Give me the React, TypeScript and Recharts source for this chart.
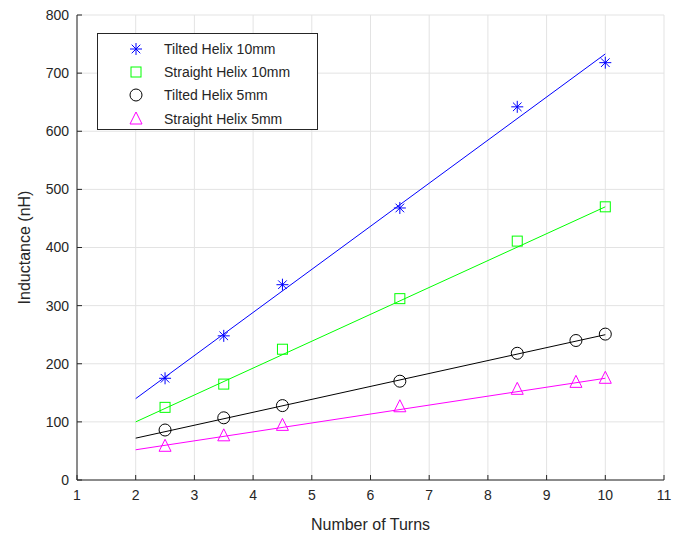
import React from 'react';
import { ComposedChart, Line, Scatter, XAxis, YAxis, CartesianGrid, Legend, Label } from 'recharts';

// measured points (turns -> nH)
const tiltedX10 = [2.5, 3.5, 4.5, 6.5, 8.5, 10];
const tiltedY10 = [175, 248, 336, 468, 642, 718];
const straightX10 = [2.5, 3.5, 4.5, 6.5, 8.5, 10];
const straightY10 = [125, 165, 225, 312, 411, 470];
const tiltedX5 = [2.5, 3.5, 4.5, 6.5, 8.5, 9.5, 10];
const tiltedY5 = [86, 107, 128, 170, 218, 240, 251];
const straightX5 = [2.5, 3.5, 4.5, 6.5, 8.5, 9.5, 10];
const straightY5 = [58, 76, 94, 126, 156, 168, 175];

// fitted lines, end points
const fitX = [2, 10];
const fitTilted10 = [140, 733];
const fitStraight10 = [100, 470];
const fitTilted5 = [72, 250];
const fitStraight5 = [52, 175];

const xTicks = [1, 2, 3, 4, 5, 6, 7, 8, 9, 10, 11];
const yTicks = [0, 100, 200, 300, 400, 500, 600, 700, 800];

const seriesNames = ['Tilted Helix 10mm', 'Straight Helix 10mm', 'Tilted Helix 5mm', 'Straight Helix 5mm'];
const COLORS = ['#0000ff', '#00ff00', '#000000', '#ff00ff'];
const MARKERS = ['star', 'square', 'circle', 'triangle'];

const zip = (xs: number[], ys: number[]) => xs.map((x, i) => ({ x, y: ys[i] }));

const marker = (kind: string, color: string, cx: number, cy: number) => {
  if (kind === 'star') {
    const r = 6, d = 4.3;
    return (
      <g stroke={color} strokeWidth={1}>
        <line x1={cx} y1={cy - r} x2={cx} y2={cy + r} />
        <line x1={cx - r} y1={cy} x2={cx + r} y2={cy} />
        <line x1={cx - d} y1={cy - d} x2={cx + d} y2={cy + d} />
        <line x1={cx - d} y1={cy + d} x2={cx + d} y2={cy - d} />
      </g>
    );
  }
  if (kind === 'square') {
    return <rect x={cx - 5} y={cy - 5} width={10} height={10} fill="none" stroke={color} strokeWidth={1} />;
  }
  if (kind === 'circle') {
    return <circle cx={cx} cy={cy} r={6} fill="none" stroke={color} strokeWidth={1} />;
  }
  return (
    <polygon
      points={`${cx},${cy - 7} ${cx + 6},${cy + 5} ${cx - 6},${cy + 5}`}
      fill="none"
      stroke={color}
      strokeWidth={1}
    />
  );
};

const makeShape = (i: number) => (props: any) => marker(MARKERS[i], COLORS[i], props.cx, props.cy);

const LegendBox = () => (
  <div
    style={{
      width: 221,
      height: 97,
      border: '1px solid #262626',
      background: '#fff',
      boxSizing: 'border-box',
      fontFamily: 'Liberation Sans, Arial, sans-serif',
      fontSize: 14,
      color: '#262626',
      paddingTop: 3,
    }}
  >
    {seriesNames.map((n, i) => (
      <div key={n} style={{ display: 'flex', alignItems: 'center', height: 23.3 }}>
        <svg width={66} height={20}>
          {marker(MARKERS[i], COLORS[i], 38, 10)}
        </svg>
        <span>{n}</span>
      </div>
    ))}
  </div>
);

const axisTick = { fill: '#262626', fontSize: 14, fontFamily: 'Liberation Sans, Arial, sans-serif' };

export default function App() {
  const fits = [fitTilted10, fitStraight10, fitTilted5, fitStraight5];
  const points = [
    zip(tiltedX10, tiltedY10),
    zip(straightX10, straightY10),
    zip(tiltedX5, tiltedY5),
    zip(straightX5, straightY5),
  ];
  return (
    <div style={{ position: 'absolute', left: 0, top: 0, width: 673, height: 537, background: '#fff' }}>
      <ComposedChart width={673} height={537} margin={{ top: 15, right: 9, bottom: 0, left: 0 }}>
        <CartesianGrid stroke="#e3e3e3" strokeWidth={1} />
        <XAxis
          type="number"
          dataKey="x"
          domain={[1, 11]}
          ticks={xTicks}
          interval={0}
          stroke="#262626"
          tick={axisTick}
          tickSize={-5}
          tickMargin={15}
          height={57}
        >
          <Label
            content={(p: any) => (
              <text
                x={p.viewBox.x + p.viewBox.width / 2}
                y={530}
                textAnchor="middle"
                fill="#262626"
                fontSize={16}
                fontFamily="Liberation Sans, Arial, sans-serif"
              >
                Number of Turns
              </text>
            )}
          />
        </XAxis>
        <XAxis xAxisId="top" orientation="top" type="number" domain={[1, 11]} ticks={xTicks} tick={false} tickLine={false} stroke="#262626" height={0} />
        <YAxis
          type="number"
          domain={[0, 800]}
          ticks={yTicks}
          interval={0}
          stroke="#262626"
          tick={axisTick}
          tickSize={-5}
          tickMargin={13}
          width={77}
        >
          <Label
            content={(p: any) => (
              <text
                x={30}
                y={p.viewBox.y + p.viewBox.height / 2}
                transform={`rotate(-90 30 ${p.viewBox.y + p.viewBox.height / 2})`}
                textAnchor="middle"
                fill="#262626"
                fontSize={16}
                fontFamily="Liberation Sans, Arial, sans-serif"
              >
                Inductance (nH)
              </text>
            )}
          />
        </YAxis>
        <YAxis yAxisId="right" orientation="right" type="number" domain={[0, 800]} tick={false} tickLine={false} stroke="#262626" width={0} />
        {fits.map((f, i) => (
          <Line
            key={'fit' + i}
            data={zip(fitX, f)}
            dataKey="y"
            stroke={COLORS[i]}
            strokeWidth={1}
            dot={false}
            activeDot={false}
            legendType="none"
            isAnimationActive={false}
          />
        ))}
        {points.map((pts, i) => (
          <Scatter
            key={'pts' + i}
            name={seriesNames[i]}
            data={pts}
            dataKey="y"
            shape={makeShape(i)}
            isAnimationActive={false}
          />
        ))}
        <Legend
          layout="vertical"
          align="center"
          verticalAlign="middle"
          content={<LegendBox />}
          wrapperStyle={{ left: 97, top: 33, width: 221 }}
        />
      </ComposedChart>
    </div>
  );
}
